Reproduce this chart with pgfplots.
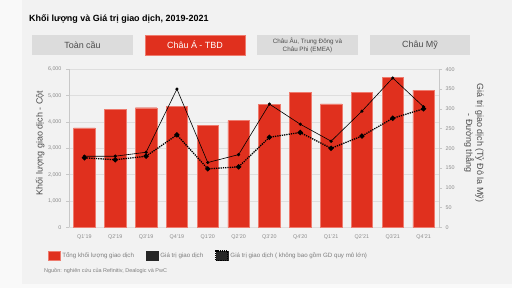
\documentclass[border=0pt]{standalone}
\usepackage{pgfplots}
\pgfplotsset{compat=1.18}
\usepackage{fontspec}
\setmainfont{Liberation Sans}

\definecolor{pwcred}{HTML}{E0301E}
\definecolor{pwcedge}{HTML}{EE7B6E}
\definecolor{bg}{HTML}{F2F2F2}
\definecolor{tabgray}{HTML}{DCDCDC}
\definecolor{ticktext}{HTML}{8C8C8C}
\definecolor{labeltext}{HTML}{4D4D4D}
\definecolor{gridc}{HTML}{DEDEDE}
\definecolor{axisc}{HTML}{C8C8C8}

% quarterly deal volume (left axis) and deal value in US$ bn (right axis)
\pgfplotstableread{
x volume value valueexmega
0 3780 180 176
1 4490 180 171
2 4540 190 180
3 4600 350 234
4 3870 164 148
5 4050 184 153
6 4670 312 228
7 5110 261 240
8 4690 218 200
9 5110 294 231
10 5700 378 276
11 5210 305 300
}\dealdata

\begin{document}
\begin{tikzpicture}[x=1bp,y=1bp]
\fill[bg] (0,0) rectangle (512,288);
\fill[white!55!bg] (0,0) rectangle (22,288);
\fill[white!55!bg] (0,0) rectangle (512,4);
\useasboundingbox (0,0) rectangle (512,288);

% title
\node[anchor=west, inner sep=0, font=\bfseries\fontsize{9}{10}\selectfont] at (29,269) {Khối lượng và Giá trị giao dịch, 2019-2021};

% region tabs
\fill[tabgray] (32,233) rectangle (133,253);
\node[font=\fontsize{9}{10}\selectfont, text=labeltext] at (82.5,243) {Toàn cầu};
\fill[pwcred] (145,233) rectangle (245,253);
\draw[pwcedge, line width=0.5] (145,233) rectangle (245,253);
\node[font=\fontsize{9}{10}\selectfont, text=white] at (195,243) {Châu Á - TBD};
\fill[tabgray] (257,233) rectangle (358,253);
\node[font=\fontsize{6.3}{8}\selectfont, text=labeltext, align=center] at (307.5,243) {Châu Âu, Trung Đông và\\Châu Phi (EMEA)};
\fill[tabgray] (370,233) rectangle (470,253);
\node[font=\fontsize{9}{10}\selectfont, text=labeltext] at (420,243) {Châu Mỹ};

% axis titles
\node[rotate=90, font=\fontsize{9}{10}\selectfont, text=labeltext] at (40,145) {Khối lượng giao dịch - Cột};
\node[rotate=-90, font=\fontsize{9}{11}\selectfont, text=labeltext, align=center] at (474,145) {Giá trị giao dịch (Tỷ Đô la Mỹ)\\- Đường thẳng};

% source
\node[anchor=west, inner sep=0, font=\fontsize{5.5}{6}\selectfont, text=ticktext!90!black] at (44,17) {Nguồn: nghiên cứu của Refinitiv, Dealogic và PwC};

\pgfplotsset{
  dealaxis/.style={
    at={(69bp,60.7bp)}, anchor=south west,
    width=370bp, height=158bp, scale only axis,
    xmin=-0.5, xmax=11.5,
    /pgf/number format/assume math mode=true,
    /pgf/number format/1000 sep={,},
    tick label style={font=\fontsize{5.4}{6}\selectfont, text=ticktext},
    axis line style={axisc, line width=0.5},
    major tick style={axisc, line width=0.5},
    tick align=outside, major tick length=3bp,
  }
}

\begin{axis}[dealaxis,
  ymin=0, ymax=6000, ytick={0,1000,...,6000},
  axis y line*=left, axis x line=none,
  ymajorgrids, grid style={gridc, line width=0.5},
  yticklabel style={xshift=-1bp},
  xtick=\empty,
]
\addplot[ybar, bar width=21.5bp, fill=pwcred, draw=pwcedge, line width=0.5] table[x=x, y=volume] {\dealdata};
\end{axis}

\begin{axis}[dealaxis,
  ymin=0, ymax=400, ytick={0,50,...,400},
  axis y line*=right, axis x line*=bottom,
  x axis line style={draw=none},
  xtick={0,...,11}, xtick style={draw=none},
  xticklabels={Q1'19,Q2'19,Q3'19,Q4'19,Q1'20,Q2'20,Q3'20,Q4'20,Q1'21,Q2'21,Q3'21,Q4'21},
  xticklabel style={yshift=-1bp},
  legend columns=3,
  legend style={at={(-0.066,-0.18)}, anchor=west, draw=none, fill=none,
    font=\fontsize{6.2}{7}\selectfont, text=ticktext!90!black,
    /tikz/every even column/.append style={column sep=10bp}},
  legend cell align=left,
]
\addplot[black, line width=0.6, mark=*, mark size=1.3, forget plot] table[x=x, y=value] {\dealdata};
\addplot[black, line width=1.3, densely dotted, mark=*, mark size=1.9, mark options={solid}, forget plot] table[x=x, y=valueexmega] {\dealdata};

\addlegendimage{legend image code/.code={\fill[pwcred] (0bp,-4.5bp) rectangle (12bp,5bp); \draw[pwcedge, line width=0.5] (0bp,-4.5bp) rectangle (12bp,5bp);}}
\addlegendentry{Tổng khối lượng giao dịch}
\addlegendimage{legend image code/.code={\fill[black!85] (0bp,-4.5bp) rectangle (12bp,5bp);}}
\addlegendentry{Giá trị giao dịch}
\addlegendimage{legend image code/.code={\fill[black!85] (0bp,-4.5bp) rectangle (12bp,5bp); \draw[black, line width=1.2, densely dotted] (0bp,-4.5bp) rectangle (12bp,5bp);}}
\addlegendentry{Giá trị giao dịch ( không bao gồm GD quy mô lớn)}
\end{axis}
\end{tikzpicture}
\end{document}
